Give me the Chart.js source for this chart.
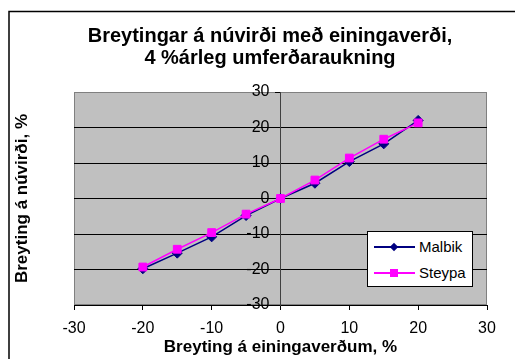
<!DOCTYPE html>
<html>
<head>
<meta charset="utf-8">
<script src="https://cdn.jsdelivr.net/npm/chart.js@4/dist/chart.umd.min.js"></script>
<style>
  html, body { margin: 0; padding: 0; background: #fff; overflow: hidden; }
  #wrap { position: relative; width: 540px; height: 359px; }
  #legend {
    position: absolute; left: 367px; top: 231px; width: 104px; height: 54px;
    background: #fff; border: 1px solid #000;
    font-family: "Liberation Sans", Arial, sans-serif; font-size: 15px; color: #000;
  }
  .item { position: absolute; left: 0; height: 20px; width: 100%; }
  .item .ln { position: absolute; left: 6px; width: 41px; top: 9px; height: 1.5px; }
  .item .mk { position: absolute; }
  .item .tx { position: absolute; left: 51px; top: 1px; line-height: 18px; }
</style>
</head>
<body>
<div id="wrap">
  <canvas id="c"></canvas>
  <div id="legend"></div>
</div>
<script>
// Change in unit prices (%)
const priceChange = [-20, -15, -10, -5, 0, 5, 10, 15, 20];
// Change in net present value (%) for each pavement type
const malbik = [-19.8, -15.4, -10.8, -4.8, 0, 4.3, 10.4, 15.4, 22.0];
const steypa = [-19.3, -14.3, -9.6, -4.4, 0, 5.2, 11.4, 16.7, 21.3];
const axisTicks = [-30, -20, -10, 0, 10, 20, 30];

const FONT = '"Liberation Sans", Arial, sans-serif';

const toPoints = (ys) => priceChange.map((x, i) => ({ x: x, y: ys[i] }));
const fixedTicks = (s) => { s.ticks = axisTicks.map(v => ({ value: v })); };

// Outer frame plus grey plot background with its border
const framePlugin = {
  id: 'frame',
  beforeDraw(chart) {
    const { ctx, chartArea: a } = chart;
    ctx.save();
    ctx.strokeStyle = '#000';
    ctx.lineWidth = 1.5;
    ctx.strokeRect(9, 11.5, 1000, 1000);
    ctx.fillStyle = '#C0C0C0';
    ctx.fillRect(a.left, a.top, a.right - a.left, a.bottom - a.top);
    ctx.strokeStyle = '#808080';
    ctx.lineWidth = 1;
    ctx.strokeRect(a.left + 0.5, a.top + 0.5, a.right - a.left - 1, a.bottom - a.top - 1);
    ctx.restore();
  }
};

const chart = new Chart(document.getElementById('c'), {
  type: 'scatter',
  data: {
    datasets: [
      {
        label: 'Malbik',
        data: toPoints(malbik),
        showLine: true,
        borderColor: '#000080',
        backgroundColor: '#000080',
        borderWidth: 1.5,
        pointStyle: 'rectRot',
        pointRadius: 5,
        pointBorderWidth: 1,
        order: 1
      },
      {
        label: 'Steypa',
        data: toPoints(steypa),
        showLine: true,
        borderColor: '#FF00FF',
        backgroundColor: '#FF00FF',
        borderWidth: 1.5,
        pointStyle: 'rect',
        pointRadius: 5.5,
        pointBorderWidth: 1,
        order: 0
      }
    ]
  },
  options: {
    responsive: true,
    maintainAspectRatio: false,
    animation: false,
    events: [],
    layout: { padding: 0 },
    plugins: {
      legend: { display: false },
      tooltip: { enabled: false },
      title: {
        display: true,
        text: ['Breytingar á núvirði með einingaverði,', '4 %árleg umferðaraukning'],
        color: '#000',
        font: { family: FONT, size: 20, weight: 'bold', lineHeight: 1.125 },
        padding: { top: 25, bottom: 22 }
      }
    },
    scales: {
      x: {
        type: 'linear',
        position: 'bottom',
        min: -30,
        max: 30,
        afterBuildTicks: fixedTicks,
        ticks: { color: '#000', font: { family: FONT, size: 16, lineHeight: 1.2 }, padding: 9.4 },
        grid: { drawOnChartArea: false, drawTicks: true, tickLength: 5, tickColor: '#000' },
        border: { color: '#000', width: 1 },
        title: {
          display: true,
          text: 'Breyting á einingaverðum, %',
          color: '#000',
          font: { family: FONT, size: 17, weight: 'bold', lineHeight: 1.2 },
          padding: { top: -11.2, bottom: 1.8 }
        }
      },
      // Vertical axis crossing at x = 0: line, grid and tick marks
      y: {
        type: 'linear',
        position: { x: 0 },
        min: -30,
        max: 30,
        afterBuildTicks: fixedTicks,
        ticks: { display: false },
        grid: {
          color: (c) => (c.tick && c.tick.value === 30) ? '#808080' : '#000',
          lineWidth: 1,
          drawTicks: true,
          tickLength: 5,
          tickColor: '#000'
        },
        border: { color: '#404040', width: 1 }
      },
      // Tick labels of the crossing axis, right-aligned just left of its tick marks
      yLabels: {
        type: 'linear',
        axis: 'y',
        position: { x: -1.6 },
        min: -30,
        max: 30,
        afterBuildTicks: fixedTicks,
        ticks: { color: '#000', font: { family: FONT, size: 16 }, padding: 0 },
        grid: { display: false, drawTicks: false },
        border: { display: false }
      },
      yTitle: {
        type: 'linear',
        axis: 'y',
        position: 'left',
        ticks: { display: false },
        grid: { display: false, drawTicks: false },
        border: { display: false },
        title: {
          display: true,
          text: 'Breyting á núvirði, %',
          color: '#000',
          font: { family: FONT, size: 17, weight: 'bold', lineHeight: 1.2 },
          padding: { top: 11.8, bottom: 41.8 }
        }
      },
      yRight: {
        type: 'linear',
        axis: 'y',
        position: 'right',
        ticks: { display: false },
        grid: { display: false, drawTicks: false },
        border: { display: false },
        afterFit: (s) => { s.width = 53; }
      }
    }
  },
  plugins: [framePlugin]
});

// Legend built from the dataset styles
const legend = document.getElementById('legend');
const rowTop = [5, 31];
[0, 1].forEach((i, r) => {
  const ds = chart.data.datasets[i];
  const item = document.createElement('div');
  item.className = 'item';
  item.style.top = rowTop[r] + 'px';
  const ln = document.createElement('div');
  ln.className = 'ln';
  ln.style.background = ds.borderColor;
  const mk = document.createElement('div');
  mk.className = 'mk';
  mk.style.background = ds.backgroundColor;
  if (ds.pointStyle === 'rectRot') {
    mk.style.width = '6px'; mk.style.height = '6px';
    mk.style.left = '23px'; mk.style.top = '7px';
    mk.style.transform = 'rotate(45deg)';
  } else {
    mk.style.width = '8px'; mk.style.height = '8px';
    mk.style.left = '22px'; mk.style.top = '6px';
  }
  const tx = document.createElement('div');
  tx.className = 'tx';
  tx.textContent = ds.label;
  item.appendChild(ln);
  item.appendChild(mk);
  item.appendChild(tx);
  legend.appendChild(item);
});
</script>
</body>
</html>
